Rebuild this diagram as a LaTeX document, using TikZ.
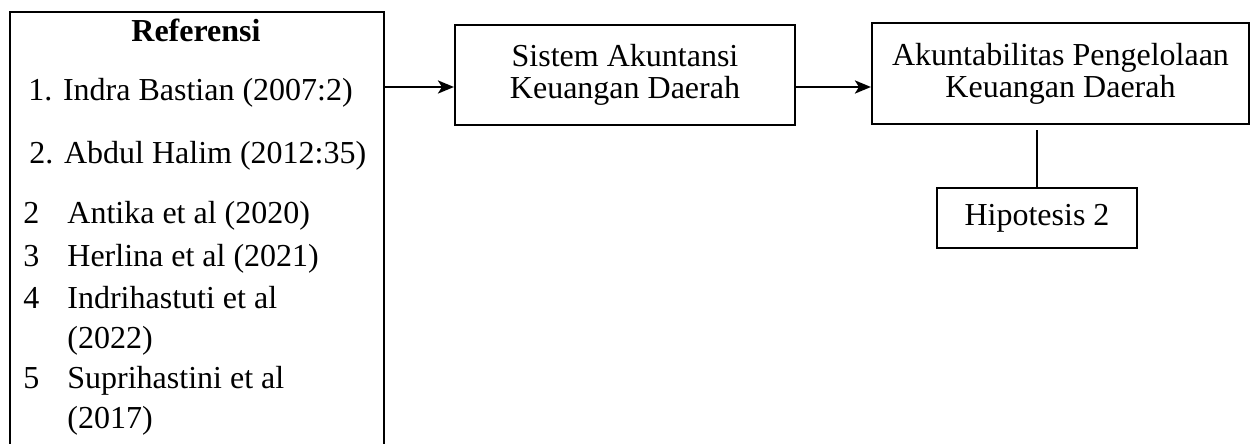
\documentclass[tikz,border=0pt]{standalone}
\usepackage{fontspec}
\setmainfont{Liberation Serif}
\usetikzlibrary{arrows.meta}

\begin{document}
\begin{tikzpicture}[x=0.5pt, y=-0.5pt,
  every node/.style={font=\fontsize{16}{16}\selectfont, inner sep=0pt},
  frame/.style={draw, line width=1pt},
  boxnode/.style={frame, align=center},
  item/.style={anchor=base west},
  arr/.style={line width=1.35pt, -{Stealth[length=8pt, width=6.5pt, inset=2pt]}},
  link/.style={line width=1pt}
]
  \useasboundingbox (0,0) rectangle (1258,444);

  % reference list frame (runs past the lower edge)
  \node[frame, anchor=north west, minimum width=187pt, minimum height=228pt] (ref) at (9,11) {};

  % list contents
  \node[anchor=base, font=\fontsize{16}{16}\selectfont\bfseries] (rtitle) at (196,42) {Referensi};
  \node[item] (r1) at (28,101) {1. Indra Bastian (2007:2)};
  \node[item] (r2) at (29,163) {2. Abdul Halim (2012:35)};
  \node[item] (n3) at (23,223) {2};
  \node[item] (t3) at (67,223) {Antika et al (2020)};
  \node[item] (n4) at (23,266) {3};
  \node[item] (t4) at (67,266) {Herlina et al (2021)};
  \node[item] (n5) at (23,308) {4};
  \node[item] (t5) at (67,308) {Indrihastuti et al};
  \node[item] (t5b) at (67,348) {(2022)};
  \node[item] (n6) at (23,388) {5};
  \node[item] (t6) at (67,388) {Suprihastini et al};
  \node[item] (t6b) at (67,428) {(2017)};

  % variable boxes
  \node[boxnode, minimum width=170pt, minimum height=50pt] (sak) at (625,75)
    {Sistem Akuntansi\\Keuangan Daerah};
  \node[boxnode, minimum width=188.5pt, minimum height=50.5pt] (akun) at (1060.5,73.5)
    {Akuntabilitas Pengelolaan\\Keuangan Daerah};
  \node[boxnode, minimum width=100pt, minimum height=30pt] (hip) at (1037,218)
    {Hipotesis 2};

  % connectors
  \coordinate (lvl) at (0,87);
  \draw[arr] (ref.east |- lvl) -- (sak.west |- lvl);
  \draw[arr] (sak.east |- lvl) -- (akun.west |- lvl);
  \draw[link, shorten >=2.5pt] (hip.north) -- (hip.north |- akun.south);
\end{tikzpicture}
\end{document}
